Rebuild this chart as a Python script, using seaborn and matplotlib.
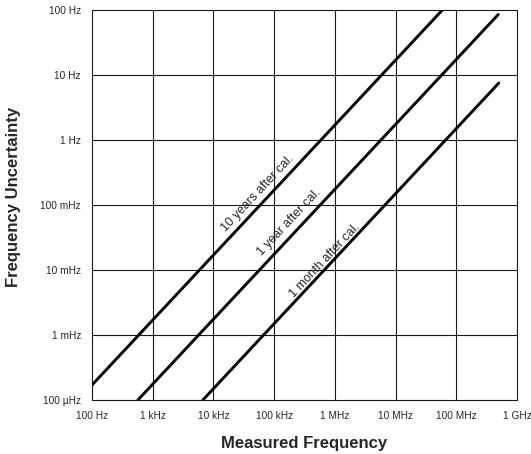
import numpy as np
import pandas as pd
import matplotlib
matplotlib.use("Agg")
import matplotlib.pyplot as plt
import seaborn as sns

# --------------------------------------------------------------------
# data (Hz)
# --------------------------------------------------------------------
freq_10y = [100, 5.9e7]
unc_10y = [1.7e-4, 100]
freq_1y = [570, 4.9e8]
unc_1y = [1e-4, 85]
freq_1m = [6.7e3, 5e8]
unc_1m = [1e-4, 7.5]

line_names = ["10 years after cal.", "1 year after cal.", "1 month after cal."]
label_freq = [5.4e4, 1.8e5, 6.9e5]
label_unc = [0.15, 0.055, 0.014]

x_ticks = [1e2, 1e3, 1e4, 1e5, 1e6, 1e7, 1e8, 1e9]
x_labels = ["100 Hz", "1 kHz", "10 kHz", "100 kHz", "1 MHz", "10 MHz", "100 MHz", "1 GHz"]
y_ticks = [1e-4, 1e-3, 1e-2, 1e-1, 1, 10, 100]
y_labels = ["100 µHz", "1 mHz", "10 mHz", "100 mHz", "1 Hz", "10 Hz", "100 Hz"]

sns.set_style("white")
plt.rcParams["font.family"] = ["Liberation Sans", "DejaVu Sans"]

df = pd.concat([
    pd.DataFrame({"freq": freq_10y, "unc": unc_10y, "curve": line_names[0]}),
    pd.DataFrame({"freq": freq_1y, "unc": unc_1y, "curve": line_names[1]}),
    pd.DataFrame({"freq": freq_1m, "unc": unc_1m, "curve": line_names[2]}),
])

fig = plt.figure(figsize=(5.31, 4.54), dpi=100)
ax = fig.add_axes([92 / 531, 54 / 454, 425 / 531, 390 / 454])

ax.set_xscale("log")
ax.set_yscale("log")
ax.set_xlim(1e2, 1e9)
ax.set_ylim(1e-4, 1e2)

# grid, drawn unclipped so the edge lines show in full
for xt in x_ticks:
    ax.axvline(xt, color="#1a1a1a", lw=0.8, zorder=1, clip_on=False)
for yt in y_ticks:
    ax.axhline(yt, color="#1a1a1a", lw=0.8, zorder=1, clip_on=False)

sns.lineplot(data=df, x="freq", y="unc", hue="curve", palette=["black"] * 3,
             linewidth=2.1, legend=False, ax=ax, zorder=3)

for s in ax.spines.values():
    s.set_visible(False)

ax.set_xticks(x_ticks)
ax.set_xticklabels(x_labels, fontsize=7.3)
ax.set_yticks(y_ticks)
ax.set_yticklabels(y_labels, fontsize=7.3)
ax.minorticks_off()
ax.tick_params(length=0, pad=8)

ax.set_xlabel("Measured Frequency", fontsize=12, fontweight="bold", labelpad=11)
ax.set_ylabel("Frequency Uncertainty", fontsize=12, fontweight="bold", labelpad=14, y=0.52)

# rotation from the line's slope on screen
p0 = ax.transData.transform((freq_1y[0], unc_1y[0]))
p1 = ax.transData.transform((freq_1y[1], unc_1y[1]))
angle = np.degrees(np.arctan2(p1[1] - p0[1], p1[0] - p0[0]))

for name, fx, uy in zip(line_names, label_freq, label_unc):
    ax.text(fx, uy, name, rotation=angle, fontsize=9, ha="center", va="center",
            rotation_mode="anchor", zorder=4)

fig.savefig("out.png", dpi=100)
